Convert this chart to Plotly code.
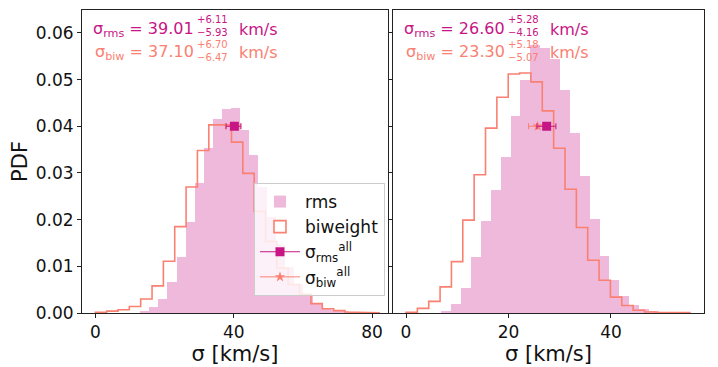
import numpy as np
import plotly.graph_objects as go
from plotly.subplots import make_subplots

# --- datos ---
# panel izquierdo
rms_left_start, rms_left_width = 13.0, 2.62
rms_left = [0.0003, 0.0013, 0.0029, 0.0066, 0.0121, 0.0195, 0.0279, 0.0353, 0.0416, 0.0437,
            0.0440, 0.0393, 0.0338, 0.0270, 0.0205, 0.0145, 0.0098, 0.0062, 0.0036, 0.0020,
            0.0011, 0.0006, 0.0003, 0.0001, 0.00005]
biw_left_start, biw_left_width = 0.0, 3.28
biw_left = [0.00014, 0.0004, 0.0007, 0.0014, 0.0030, 0.0058, 0.0111, 0.0185, 0.0270, 0.0348,
            0.0403, 0.0403, 0.0366, 0.0299, 0.0218, 0.0153, 0.0096, 0.0061, 0.0040, 0.0020,
            0.0009, 0.0005, 0.0002, 0.0001, 0.00005]

# panel derecho
rms_right_start, rms_right_width = 6.89, 1.93
rms_right = [0.00034, 0.0020, 0.0054, 0.0120, 0.0196, 0.0264, 0.0334, 0.0421, 0.0500, 0.0573,
             0.0568, 0.0545, 0.0477, 0.0386, 0.0294, 0.0202, 0.0123, 0.0071, 0.0037, 0.0017,
             0.0008, 0.0003, 0.0001, 0.00005, 0.00002]
biw_right_start, biw_right_width = 0.0, 2.216
biw_right = [0.00014, 0.0010, 0.0025, 0.0056, 0.0110, 0.0199, 0.0296, 0.0396, 0.0462, 0.0512,
             0.0514, 0.0495, 0.0433, 0.0353, 0.0265, 0.0183, 0.0113, 0.0070, 0.0034, 0.0016,
             0.0006, 0.0002, 0.0001, 0.0001, 0.0001]

# valores de sigma (texto)
sig_rms = [39.01, 26.60]
sig_rms_up = [6.11, 5.28]
sig_rms_lo = [5.93, 4.16]
sig_biw = [37.10, 23.30]
sig_biw_up = [6.70, 5.18]
sig_biw_lo = [6.47, 5.07]

# sigma de todos los miembros (puntos con barra de error)
all_y = [0.04, 0.04]
all_rms = [40.2, 27.45]
all_rms_minus = [2.4, 1.9]
all_rms_plus = [1.9, 1.8]
all_biw = [39.9, 25.7]
all_biw_minus = [2.3, 1.8]
all_biw_plus = [2.0, 1.9]

MAG = '#c71585'
PINK = '#eeb9da'
SALMON = '#fa8072'
FONT = 'DejaVu Sans'

fig = make_subplots(rows=1, cols=2, shared_yaxes=True)

panels = [
    (rms_left_start, rms_left_width, rms_left, biw_left_start, biw_left_width, biw_left),
    (rms_right_start, rms_right_width, rms_right, biw_right_start, biw_right_width, biw_right),
]

for i, (rs, rw, rh, bs, bw, bh) in enumerate(panels):
    col = i + 1
    show = (i == 0)
    rh = np.array(rh)
    centers = rs + rw * (np.arange(len(rh)) + 0.5)
    fig.add_trace(go.Bar(
        x=centers, y=rh, width=rw,
        marker=dict(color=PINK, line=dict(width=0)),
        name='rms', showlegend=show, legendrank=1,
    ), row=1, col=col)

    bh = np.array(bh)
    edges = bs + bw * np.arange(len(bh) + 1)
    xs = np.repeat(edges, 2)
    ys = np.concatenate([[0], np.repeat(bh, 2), [0]])
    fig.add_trace(go.Scatter(
        x=xs, y=ys, mode='lines',
        line=dict(color=SALMON, width=1.6),
        name='biweight', showlegend=False, hoverinfo='skip',
    ), row=1, col=col)

    fig.add_trace(go.Scatter(
        x=[all_biw[i]], y=[all_y[i]], mode='lines+markers',
        marker=dict(symbol='star', size=8, color=SALMON),
        line=dict(color=SALMON, width=1),
        error_x=dict(type='data', symmetric=False, array=[all_biw_plus[i]],
                     arrayminus=[all_biw_minus[i]], color=SALMON, thickness=1, width=3),
        name='σ<sub>biw</sub><sup>all</sup>', showlegend=show, legendrank=4,
    ), row=1, col=col)
    fig.add_trace(go.Scatter(
        x=[all_rms[i]], y=[all_y[i]], mode='lines+markers',
        marker=dict(symbol='square', size=9, color=MAG),
        line=dict(color=MAG, width=1),
        error_x=dict(type='data', symmetric=False, array=[all_rms_plus[i]],
                     arrayminus=[all_rms_minus[i]], color=MAG, thickness=1, width=3),
        name='σ<sub>rms</sub><sup>all</sup>', showlegend=show, legendrank=3,
    ), row=1, col=col)

# entrada de leyenda para el histograma escalonado (caja sin relleno)
fig.add_trace(go.Bar(
    x=[None], y=[None], name='biweight', legendrank=2,
    marker=dict(color='white', line=dict(color=SALMON, width=1.6)),
), row=1, col=1)

# --- textos sigma = valor^{+}_{-} km/s ---
def sigma_text(xref, yref, label, val, up, lo, color, line):
    base = dict(xref=xref, yref=yref, x=0, y=1, showarrow=False, yanchor='middle')
    dy = 23.5 * line
    fig.add_annotation(text=f'σ<sub>{label}</sub> = {val:.2f}', xshift=114, xanchor='right',
                       yshift=-(19 + dy), font=dict(family=FONT, size=16, color=color), **base)
    fig.add_annotation(text=f'+{up:.2f}<br>\u2212{lo:.2f}', xshift=114, xanchor='left',
                       align='left', borderpad=0, yshift=-(16 + dy + 1.5 * line),
                       font=dict(family=FONT, size=10, color=color), **base)
    fig.add_annotation(text='km/s', xshift=155, xanchor='left', yshift=-(19 + dy),
                       font=dict(family=FONT, size=16, color=color), **base)

for i, (xr, yr) in enumerate([('x domain', 'y domain'), ('x2 domain', 'y2 domain')]):
    sigma_text(xr, yr, 'rms', sig_rms[i], sig_rms_up[i], sig_rms_lo[i], MAG, 0)
    sigma_text(xr, yr, 'biw', sig_biw[i], sig_biw_up[i], sig_biw_lo[i], SALMON, 1)

axis_common = dict(showline=True, linecolor='#222', linewidth=1, mirror=True, automargin=False,
                   ticks='outside', ticklen=4, tickcolor='#222', showgrid=False, zeroline=False,
                   tickfont=dict(family=FONT, size=17, color='#111'))

fig.update_xaxes(**axis_common)
fig.update_yaxes(**axis_common)
# la pagina tiene un margen de 8 px: se compensa en los margenes
fig.update_layout(
    width=718, height=367,
    margin=dict(l=74, r=22, t=2, b=62),
    plot_bgcolor='white', paper_bgcolor='white',
    bargap=0, barmode='overlay',
    font=dict(family=FONT, size=17, color='#111'),
    xaxis=dict(domain=[0, 0.492], range=[-3.84, 84.6], tickvals=[0, 40, 80],
               title=dict(text='σ [km/s]', font=dict(family=FONT, size=21), standoff=2)),
    xaxis2=dict(domain=[0.5, 1], range=[-2.54, 58.15], tickvals=[0, 20, 40],
                title=dict(text='σ [km/s]', font=dict(family=FONT, size=21), standoff=2)),
    yaxis=dict(range=[0, 0.0649], dtick=0.01, tickformat='.2f',
               title=dict(text='PDF', font=dict(family=FONT, size=21), standoff=4)),
    yaxis2=dict(range=[0, 0.0649], dtick=0.01, showticklabels=False),
    legend=dict(x=0.2765, y=0.429, xanchor='left', yanchor='top',
                bgcolor='rgba(255,255,255,0.8)', bordercolor='#cccccc', borderwidth=1,
                font=dict(family=FONT, size=17), traceorder='normal', itemwidth=40,
                tracegroupgap=0),
)

fig.write_html('out.html')
